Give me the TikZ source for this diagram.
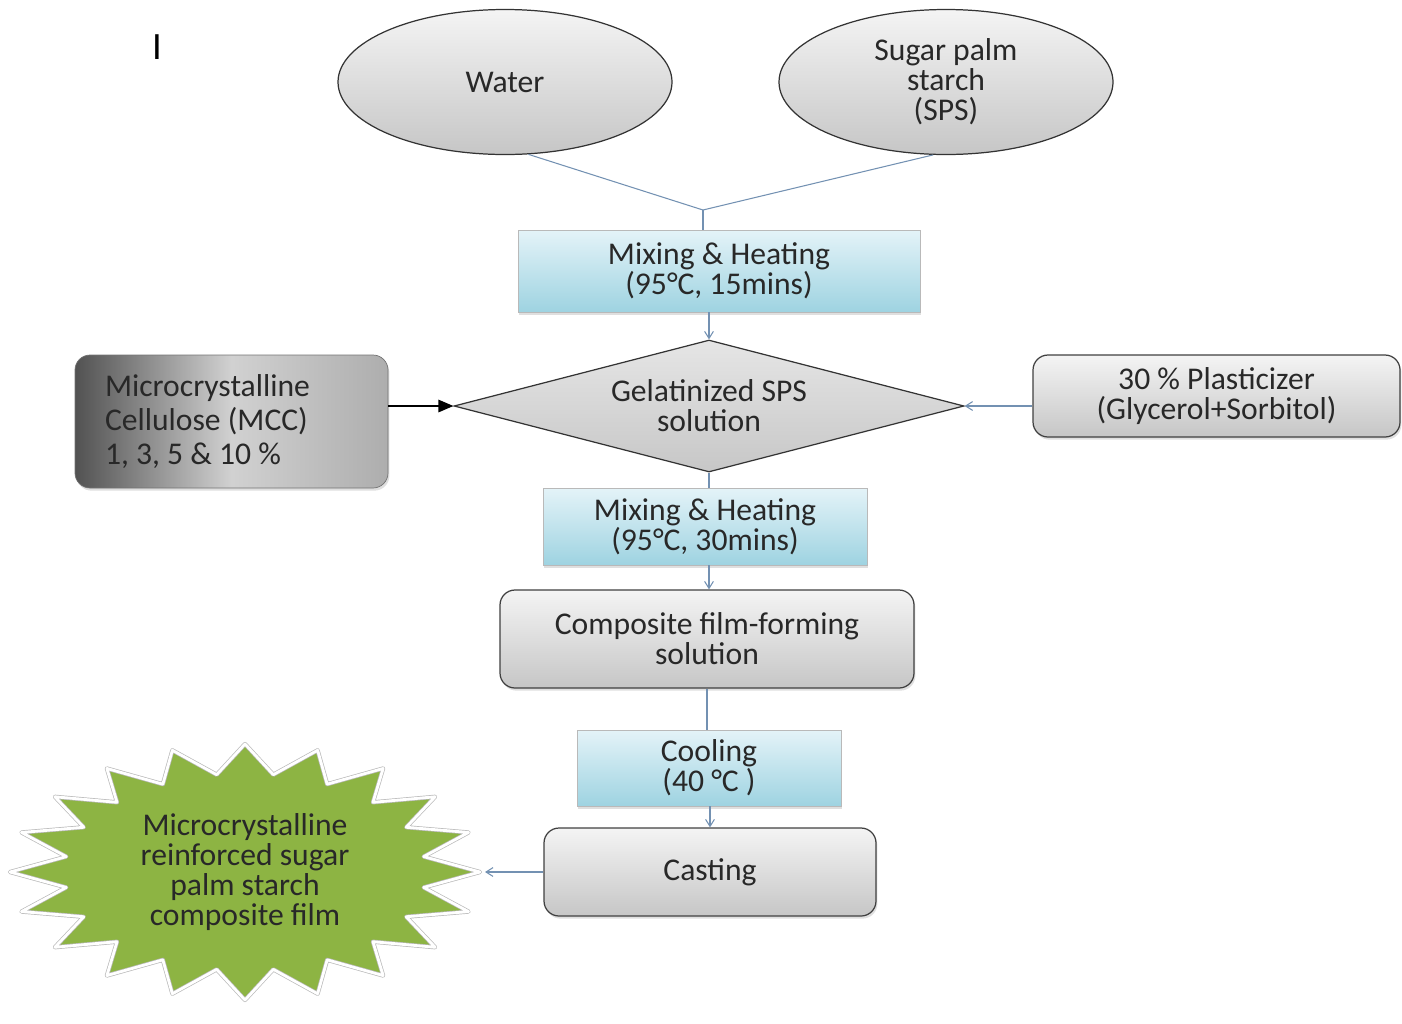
\documentclass[tikz,border=0pt]{standalone}
\usepackage{fontspec}
\setmainfont{Carlito}
\usetikzlibrary{shapes.geometric,arrows.meta,shadows}

\definecolor{texte}{RGB}{40,40,40}
\definecolor{trait}{RGB}{115,145,178}
\definecolor{vert}{RGB}{141,180,67}
\definecolor{bleuclair}{RGB}{228,243,248}
\definecolor{bleufonce}{RGB}{158,211,225}
\definecolor{grisclair}{RGB}{244,244,244}
\definecolor{grisfonce}{RGB}{198,198,198}

\tikzset{entree/.style = {ellipse, draw=black!80, line width=0.7pt,
                          top color=grisclair, bottom color=grisfonce,
                          minimum width=6.68cm, minimum height=2.9cm, inner sep=0pt},
         chauffe/.style = {rectangle, draw=gray!55, top color=bleuclair, bottom color=bleufonce,
                           drop shadow={opacity=0.25, shadow xshift=0.8pt, shadow yshift=-1.5pt}},
         etape/.style = {rectangle, rounded corners=0.3cm, draw=black!75, line width=0.7pt,
                         top color=grisclair, bottom color=grisfonce,
                         drop shadow={opacity=0.25, shadow xshift=0.8pt, shadow yshift=-1.5pt}},
         sombre/.style = {rectangle, rounded corners=0.3cm, draw=black!55,
                          left color=black!68, right color=black!32, middle color=black!18,
                          drop shadow={opacity=0.25, shadow xshift=0.8pt, shadow yshift=-1.5pt}},
         losange/.style = {diamond, draw=black!80, line width=0.7pt, aspect=3.86, inner sep=0pt,
                           top color=black!10, bottom color=black!22},
         etoile/.style = {fill=vert, draw=gray!55, double=white, double distance=1.6pt, line join=round},
         trace/.style = {draw=trait, line width=0.6pt},
         fleche/.style = {draw=trait, line width=0.6pt, -{Straight Barb[length=4pt,width=5pt]}}
        }

\begin{document}
\begin{tikzpicture}
\tikzstyle{every node}=[font=\fontsize{18}{17}\selectfont, text=texte, align=center]
\useasboundingbox (0,0) rectangle (28.04,-20.46);
\node[font=\fontsize{22}{22}\selectfont, text=black] at (3.14,-0.94) (curseur) {I};
\node[entree] at (10.1,-1.64) (eau) {Water};
\node[entree] at (18.92,-1.64) (sps) {Sugar palm\\starch\\(SPS)};
\coordinate (jonction) at (14.06,-4.2);
\node[chauffe, minimum width=8.04cm, minimum height=1.64cm] at (14.38,-5.42) (mix1) {Mixing \& Heating\\(95°C, 15mins)};
\node[losange, minimum width=10.2cm, minimum height=2.64cm] at (14.18,-8.12) (gel) {Gelatinized SPS\\solution};
\node[sombre, minimum width=6.26cm, minimum height=2.66cm, text width=5.06cm, inner xsep=0.6cm, align=flush left,
      font=\fontsize{18}{19.5}\selectfont] at (4.63,-8.43) (mcc) {Microcrystalline\\Cellulose (MCC)\\1, 3, 5 \& 10 \%};
\node[etape, minimum width=7.34cm, minimum height=1.64cm] at (24.33,-7.92) (plast) {30 \% Plasticizer\\(Glycerol+Sorbitol)};
\node[chauffe, minimum width=6.48cm, minimum height=1.54cm] at (14.1,-10.53) (mix2) {Mixing \& Heating\\(95°C, 30mins)};
\node[etape, minimum width=8.28cm, minimum height=1.96cm] at (14.14,-12.78) (film) {Composite film-forming\\solution};
\node[chauffe, minimum width=5.28cm, minimum height=1.52cm] at (14.18,-15.36) (refroid) {Cooling\\(40 °C )};
\node[etape, minimum width=6.64cm, minimum height=1.76cm] at (14.2,-17.44) (coulee) {Casting};
\filldraw[etoile] (9.6,-17.44) \foreach \i [evaluate=\i as \r using {mod(\i,2)==0 ? 1 : 0.77}] in {1,...,39}
   { -- ({4.9+4.7*\r*cos(9*\i)},{-17.44+2.56*\r*sin(9*\i)}) } -- cycle;
\node at (4.9,-17.44) (produit) {Microcrystalline\\reinforced sugar\\palm starch\\composite film};
\coordinate (pointe) at (9.7,-17.44);
\draw[trace] (eau.-72) -- (jonction);
\draw[trace] (sps.-100) -- (jonction);
\draw[trace] (jonction) -- (jonction |- mix1.north);
\draw[fleche] (gel.north |- mix1.south) -- (gel.north);
\draw[line width=0.8pt, -{Triangle[length=0.3cm,width=0.25cm]}] (mcc.east |- gel.west) -- (gel.west);
\draw[fleche] (plast.west |- gel.east) -- (gel.east);
\draw[trace] (gel.south) -- (gel.south |- mix2.north);
\draw[fleche] (gel.south |- mix2.south) -- (gel.south |- film.north);
\draw[trace] (film.south) -- (film.south |- refroid.north);
\draw[fleche] (coulee.north |- refroid.south) -- (coulee.north);
\draw[fleche] (coulee.west) -- (pointe);
\end{tikzpicture}
\end{document}
